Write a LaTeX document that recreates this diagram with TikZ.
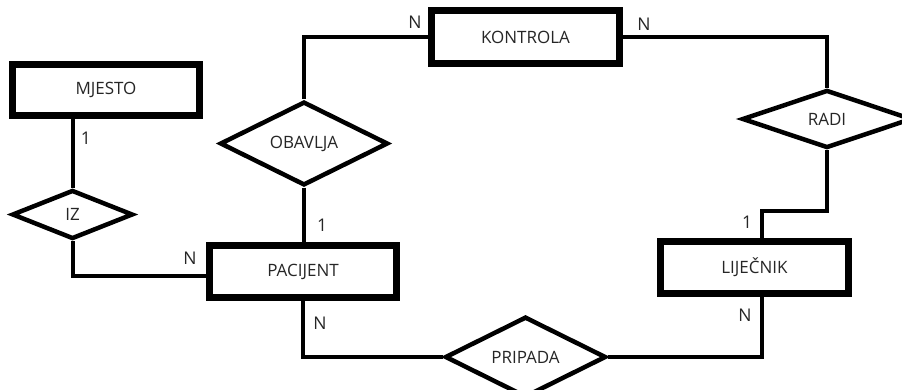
\documentclass[tikz,border=0pt]{standalone}
\usepackage{fontspec}
\setmainfont{Open Sans}
\usetikzlibrary{shapes.geometric}
\begin{document}
\begin{tikzpicture}[x=1pt,y=-1pt,
  every node/.style={font=\fontsize{17}{20}\selectfont, text=black!85},
  entity/.style={draw=black, line width=7pt, inner sep=0pt, rectangle},
  rel/.style={draw=black, line width=4.5pt, diamond, aspect=1, inner sep=0pt, line join=miter},
  conn/.style={draw=black, line width=4pt},
  card/.style={font=\fontsize{17.5}{20}\selectfont, text=black!85, inner sep=0pt}]
\useasboundingbox (0,0) rectangle (902,389);
\fill[white] (0,0) rectangle (902,389);
% entities
\node[entity, minimum width=187pt, minimum height=51pt] (mjesto) at (106,90) {MJESTO};
\node[entity, minimum width=188pt, minimum height=53pt] (kontrola) at (525.5,37) {KONTROLA};
\node[entity, minimum width=187pt, minimum height=52pt] (pacijent) at (303,271.5) {PACIJENT};
\node[entity, minimum width=188pt, minimum height=52pt] (lijecnik) at (754.5,267.5) {LIJEČNIK};
% relationships
\node[rel, minimum width=168pt, minimum height=59pt] (obavlja) at (304,143.5) {OBAVLJA};
\node[rel, minimum width=121pt, minimum height=49pt] (iz) at (72.5,214.5) {IZ};
\node[rel, minimum width=170pt, minimum height=58pt] (radi) at (827,119) {RADI};
\node[rel, minimum width=161pt, minimum height=60pt] (pripada) at (525.5,357) {PRIPADA};
% helper coordinates
\coordinate (rl) at (762,211);
\coordinate (izp) at (0,276);
% connectors
\draw[conn] (kontrola.west) -| (obavlja.north);
\draw[conn] (obavlja.south) -- (obavlja.south |- pacijent.north);
\draw[conn] (kontrola.east) -| (radi.north);
\draw[conn] (radi.south) |- (rl) -- (rl |- lijecnik.north);
\draw[conn] (rl |- lijecnik.south) |- (pripada.east);
\draw[conn] (pacijent.south) |- (pripada.west);
\draw[conn] (iz.north |- mjesto.south) -- (iz.north);
\draw[conn] (iz.south) |- (pacijent.west |- izp);
% cardinalities
\node[card] (c1) at (415,22) {N};
\node[card] (c2) at (644,24) {N};
\node[card] (c3) at (86,138) {1};
\node[card] (c4) at (190,258) {N};
\node[card] (c5) at (322,225) {1};
\node[card] (c6) at (320,323) {N};
\node[card] (c7) at (747,222) {1};
\node[card] (c8) at (745,315) {N};
\end{tikzpicture}
\end{document}
